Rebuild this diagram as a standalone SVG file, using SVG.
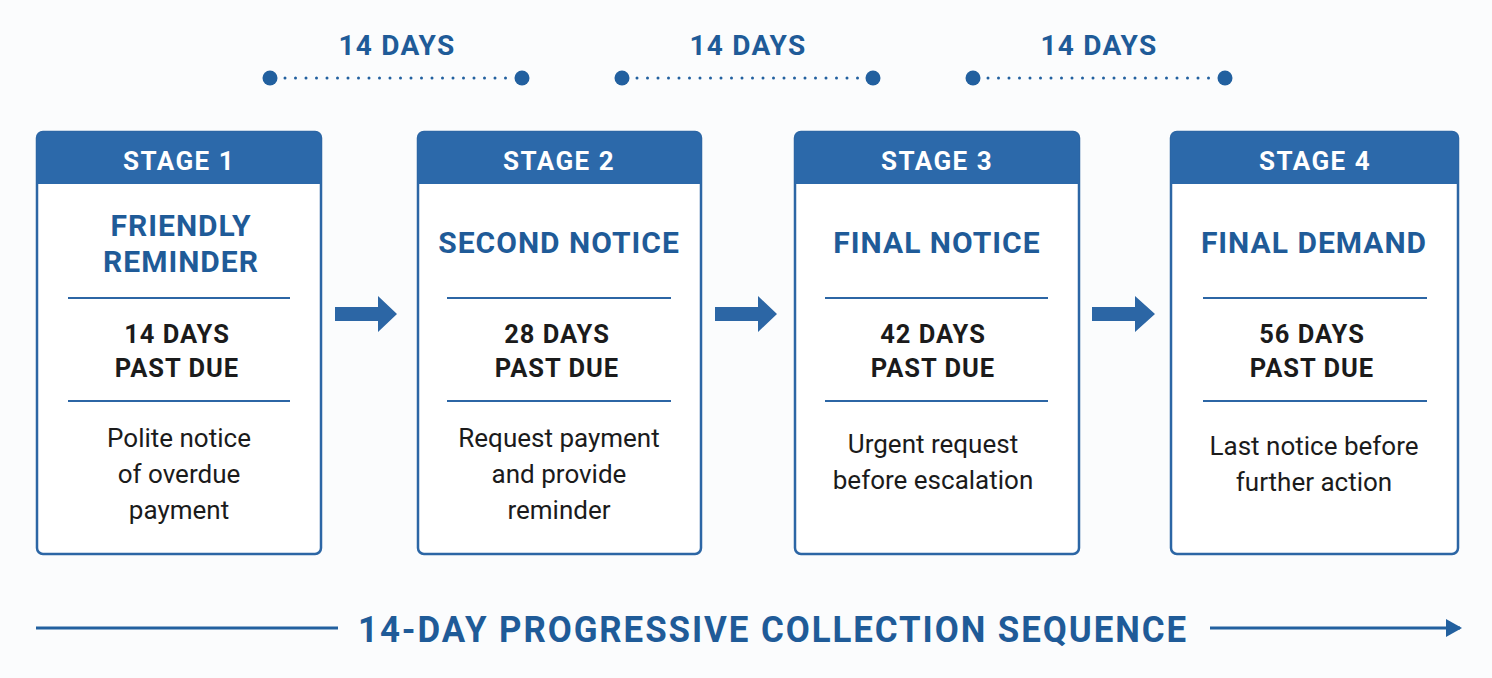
<svg xmlns="http://www.w3.org/2000/svg" width="1492" height="678" viewBox="0 0 1492 678">
<defs>
<style>
.card{fill:#ffffff;stroke:#2c66a5;stroke-width:2.5}
.hdr{fill:#2c69aa}
.hdrt{font-family:Roboto,"Liberation Sans",sans-serif;font-weight:700;font-size:26px;fill:#ffffff;text-anchor:middle;letter-spacing:1.5px}
.ttl{font-family:Roboto,"Liberation Sans",sans-serif;font-weight:700;font-size:30px;fill:#1f5b98;text-anchor:middle;letter-spacing:1px}
.due{font-family:Roboto,"Liberation Sans",sans-serif;font-weight:700;font-size:25.5px;fill:#1b1b1b;text-anchor:middle;letter-spacing:1px}
.desc{font-family:Roboto,"Liberation Sans",sans-serif;font-size:26px;fill:#1b1b1b;text-anchor:middle}
.div{stroke:#2c66a5;stroke-width:2}
.days{font-family:Roboto,"Liberation Sans",sans-serif;font-weight:700;font-size:28px;fill:#1f5b98;text-anchor:middle;letter-spacing:1.2px}
.dot{fill:#22609f}
.dl{stroke:#22609f;stroke-width:3;stroke-dasharray:0 10.5;stroke-linecap:round}
.arr{fill:#2c66a5}
.foot{font-family:Roboto,"Liberation Sans",sans-serif;font-weight:700;font-size:36px;fill:#1f5b98;text-anchor:middle;letter-spacing:2px}
.fl{stroke:#22609f;stroke-width:3}
</style>
<marker id="ah" markerWidth="16" markerHeight="18" refX="14" refY="9" orient="auto" markerUnits="userSpaceOnUse">
<path d="M0,0 L16,9 L0,18 Z" fill="#22609f"/>
</marker>
</defs>
<rect width="1492" height="678" fill="#fbfcfd"/>

<g id="timeline">
<text class="days" x="397" y="55">14 DAYS</text>
<line class="dl" x1="285" y1="78" x2="510" y2="78"/>
<circle class="dot" cx="270" cy="78" r="7.5"/>
<circle class="dot" cx="522" cy="78" r="7.5"/>
<text class="days" x="748" y="55">14 DAYS</text>
<line class="dl" x1="637" y1="78" x2="861" y2="78"/>
<circle class="dot" cx="622" cy="78" r="7.5"/>
<circle class="dot" cx="873" cy="78" r="7.5"/>
<text class="days" x="1099" y="55">14 DAYS</text>
<line class="dl" x1="988" y1="78" x2="1213" y2="78"/>
<circle class="dot" cx="973" cy="78" r="7.5"/>
<circle class="dot" cx="1225" cy="78" r="7.5"/>
</g>

<g id="stage1">
<rect class="card" x="37" y="132" width="284" height="422" rx="6"/>
<path class="hdr" d="M37,184 V138 a6,6 0 0 1 6,-6 H315 a6,6 0 0 1 6,6 V184 Z"/>
<text class="hdrt" x="179" y="170">STAGE 1</text>
<text class="ttl" x="181" y="236">FRIENDLY</text>
<text class="ttl" x="181" y="272">REMINDER</text>
<line class="div" x1="68" y1="298" x2="290" y2="298"/>
<text class="due" x="177" y="343">14 DAYS</text>
<text class="due" x="177" y="377">PAST DUE</text>
<line class="div" x1="68" y1="401" x2="290" y2="401"/>
<text class="desc" x="179" y="447">Polite notice</text>
<text class="desc" x="179" y="483">of overdue</text>
<text class="desc" x="179" y="519">payment</text>
</g>

<g id="stage2">
<rect class="card" x="418" y="132" width="283" height="422" rx="6"/>
<path class="hdr" d="M418,184 V138 a6,6 0 0 1 6,-6 H695 a6,6 0 0 1 6,6 V184 Z"/>
<text class="hdrt" x="559" y="170">STAGE 2</text>
<text class="ttl" x="559" y="253">SECOND NOTICE</text>
<line class="div" x1="447" y1="298" x2="671" y2="298"/>
<text class="due" x="557" y="343">28 DAYS</text>
<text class="due" x="557" y="377">PAST DUE</text>
<line class="div" x1="447" y1="401" x2="671" y2="401"/>
<text class="desc" x="559" y="447">Request payment</text>
<text class="desc" x="559" y="483">and provide</text>
<text class="desc" x="559" y="519">reminder</text>
</g>

<g id="stage3">
<rect class="card" x="795" y="132" width="284" height="422" rx="6"/>
<path class="hdr" d="M795,184 V138 a6,6 0 0 1 6,-6 H1073 a6,6 0 0 1 6,6 V184 Z"/>
<text class="hdrt" x="937" y="170">STAGE 3</text>
<text class="ttl" x="937" y="253">FINAL NOTICE</text>
<line class="div" x1="825" y1="298" x2="1048" y2="298"/>
<text class="due" x="933" y="343">42 DAYS</text>
<text class="due" x="933" y="377">PAST DUE</text>
<line class="div" x1="825" y1="401" x2="1048" y2="401"/>
<text class="desc" x="933" y="453">Urgent request</text>
<text class="desc" x="933" y="489">before escalation</text>
</g>

<g id="stage4">
<rect class="card" x="1171" y="132" width="287" height="422" rx="6"/>
<path class="hdr" d="M1171,184 V138 a6,6 0 0 1 6,-6 H1452 a6,6 0 0 1 6,6 V184 Z"/>
<text class="hdrt" x="1315" y="170">STAGE 4</text>
<text class="ttl" x="1314" y="253">FINAL DEMAND</text>
<line class="div" x1="1203" y1="298" x2="1427" y2="298"/>
<text class="due" x="1312" y="343">56 DAYS</text>
<text class="due" x="1312" y="377">PAST DUE</text>
<line class="div" x1="1203" y1="401" x2="1427" y2="401"/>
<text class="desc" x="1314" y="455">Last notice before</text>
<text class="desc" x="1314" y="491">further action</text>
</g>

<g id="connectors">
<path class="arr" d="M335,307 H378 V296 L397,314 L378,332 V321 H335 Z"/>
<path class="arr" d="M715,307 H758 V296 L777,314 L758,332 V321 H715 Z"/>
<path class="arr" d="M1092,307 H1135 V296 L1155,314 L1135,332 V321 H1092 Z"/>
</g>

<g id="footer">
<line class="fl" x1="36" y1="628" x2="338" y2="628"/>
<text class="foot" x="773" y="642" textLength="830" lengthAdjust="spacingAndGlyphs">14-DAY PROGRESSIVE COLLECTION SEQUENCE</text>
<line class="fl" x1="1210" y1="628" x2="1460" y2="628" marker-end="url(#ah)"/>
</g>
</svg>
